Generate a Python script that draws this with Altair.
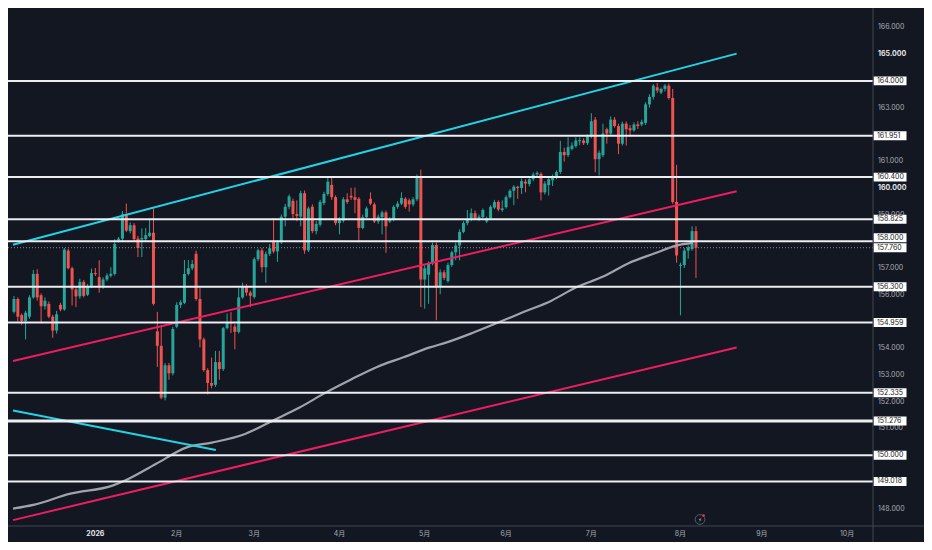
import altair as alt
import pandas as pd

# ---------------- data (USD/JPY daily) ----------------
opens = [155.36, 155.84, 155.24, 155.02, 155.18, 155.90, 156.78, 155.98, 155.57, 155.66,
         155.18, 154.66, 155.62, 155.45, 157.65, 156.99, 156.20, 155.94, 156.48, 156.00,
         156.30, 156.81, 156.66, 156.30, 156.57, 156.71, 156.78, 158.02, 158.10, 159.01,
         158.38, 158.60, 158.10, 158.07, 158.08, 158.20, 158.32, 154.63, 154.09, 152.15,
         153.36, 153.06, 154.80, 155.62, 155.70, 156.78, 156.99, 157.53, 155.84, 154.33,
         153.18, 152.70, 152.63, 153.48, 153.22, 154.75, 154.97, 154.81, 154.61, 155.90,
         156.32, 156.08, 155.92, 157.33, 157.66, 157.03, 157.53, 157.98, 157.62, 157.96,
         158.92, 159.29, 159.51, 159.02, 158.92, 159.80, 157.66, 159.29, 158.38, 158.62,
         159.43, 159.77, 160.11, 159.65, 158.68, 158.77, 159.57, 159.70, 159.65, 159.59,
         158.50, 158.90, 159.59, 159.38, 158.74, 158.90, 159.08, 158.74, 158.83, 159.29,
         159.41, 159.59, 159.53, 159.38, 159.57, 160.40, 156.57, 156.75, 157.17, 157.86,
         156.29, 156.84, 156.51, 157.11, 157.59, 157.84, 158.35, 158.68, 158.80, 159.05,
         158.83, 158.90, 158.74, 158.86, 159.26, 159.47, 159.17, 159.28, 159.65, 159.89,
         160.04, 159.99, 160.23, 160.14, 160.32, 160.50, 160.52, 159.83, 160.10, 160.28,
         160.38, 160.59, 161.34, 161.22, 161.46, 161.56, 161.74, 161.77, 161.67, 161.92,
         162.55, 161.07, 161.22, 162.19, 162.03, 162.55, 162.31, 161.65, 162.40, 162.23,
         162.15, 162.37, 162.37, 162.43, 163.12, 163.40, 163.76, 163.56, 163.70, 163.82,
         163.36, 159.47, 157.08, 157.11, 157.65, 157.71, 158.38]
highs = [155.95, 155.90, 155.30, 155.40, 155.98, 156.93, 156.95, 156.05, 155.90, 155.75,
         155.25, 155.40, 155.70, 157.75, 157.72, 157.05, 156.30, 156.60, 156.55, 156.40,
         156.98, 157.00, 157.29, 156.65, 156.80, 157.03, 158.08, 158.16, 159.13, 159.41,
         158.70, 158.68, 158.20, 158.48, 158.50, 158.86, 159.23, 155.36, 154.87, 153.45,
         153.45, 154.80, 155.72, 155.80, 157.30, 157.30, 157.30, 157.65, 156.26, 154.40,
         153.25, 153.65, 153.90, 153.90, 154.80, 155.30, 155.35, 154.90, 156.26, 156.45,
         156.40, 156.15, 157.40, 157.72, 157.75, 157.62, 157.90, 158.87, 158.05, 159.00,
         159.40, 159.75, 159.60, 159.53, 159.89, 159.90, 159.30, 159.38, 158.75, 159.55,
         159.85, 160.40, 160.38, 159.72, 158.90, 159.65, 159.80, 160.00, 160.01, 159.65,
         159.00, 159.30, 159.83, 159.45, 159.00, 159.15, 159.15, 158.90, 159.35, 159.50,
         159.83, 159.65, 159.60, 159.65, 160.50, 160.68, 157.10, 157.25, 157.95, 157.95,
         156.95, 156.92, 157.20, 157.65, 157.95, 158.45, 158.75, 159.17, 159.23, 159.15,
         159.00, 159.23, 158.92, 159.35, 159.55, 159.53, 159.53, 159.72, 159.95, 160.10,
         160.08, 160.35, 160.32, 160.40, 160.58, 160.62, 160.58, 160.25, 160.40, 160.50,
         160.65, 161.76, 161.50, 161.89, 161.70, 161.89, 161.89, 161.85, 162.00, 162.79,
         162.65, 161.40, 162.40, 162.25, 162.67, 162.65, 162.40, 162.48, 162.48, 162.35,
         162.45, 162.49, 162.55, 163.20, 163.50, 163.88, 163.92, 163.75, 163.88, 163.90,
         163.70, 160.86, 157.20, 157.75, 157.85, 158.56, 158.56]
lows = [155.30, 155.00, 154.87, 154.33, 155.10, 155.85, 155.78, 154.93, 155.45, 155.12,
        154.39, 154.55, 155.38, 155.40, 156.95, 155.60, 155.54, 155.85, 155.90, 155.95,
        156.25, 156.70, 156.08, 156.22, 156.50, 156.65, 156.72, 157.95, 158.02, 158.35,
        158.30, 158.00, 157.41, 157.41, 158.00, 158.15, 155.60, 153.30, 152.09, 152.05,
        152.82, 152.98, 154.75, 155.50, 155.65, 156.72, 156.92, 155.78, 154.03, 153.12,
        152.27, 152.50, 152.55, 152.82, 153.15, 154.70, 154.57, 153.96, 154.55, 155.85,
        155.96, 155.54, 155.85, 157.25, 156.84, 156.45, 157.45, 157.55, 157.23, 157.90,
        158.56, 159.20, 158.83, 158.75, 158.56, 157.53, 157.60, 158.30, 158.26, 158.55,
        159.35, 159.70, 159.55, 158.60, 158.26, 158.70, 159.40, 159.55, 159.05, 157.96,
        158.45, 158.85, 159.35, 158.68, 158.65, 158.26, 157.57, 158.68, 158.75, 159.22,
        159.35, 159.22, 159.11, 159.30, 159.50, 155.54, 155.48, 155.66, 157.10, 155.05,
        156.02, 156.55, 156.45, 157.05, 157.29, 157.29, 158.30, 158.60, 158.75, 158.80,
        158.75, 158.85, 158.68, 158.80, 159.20, 159.12, 159.10, 159.22, 159.60, 159.35,
        159.59, 159.77, 159.83, 160.05, 160.25, 160.40, 159.53, 159.75, 159.71, 160.07,
        160.32, 160.52, 160.98, 161.15, 161.40, 161.50, 161.60, 161.60, 161.60, 161.85,
        160.58, 160.46, 161.15, 161.65, 161.95, 162.25, 161.26, 161.58, 161.58, 161.91,
        162.10, 162.20, 162.30, 162.35, 163.00, 163.30, 163.55, 163.50, 163.60, 163.30,
        159.40, 157.20, 155.23, 157.00, 157.35, 157.65, 156.63]
closes = [155.84, 155.18, 155.02, 155.33, 155.90, 156.78, 155.90, 155.57, 155.78, 155.18,
          154.66, 155.27, 155.45, 157.69, 156.99, 156.20, 155.94, 156.48, 155.96, 156.30,
          156.81, 156.77, 156.30, 156.57, 156.72, 156.78, 157.90, 158.10, 159.01, 158.40,
          158.60, 158.08, 157.75, 158.12, 158.23, 158.32, 155.66, 154.09, 152.15, 153.36,
          153.06, 154.72, 155.62, 155.72, 156.78, 156.99, 157.15, 155.84, 154.33, 153.18,
          152.70, 152.60, 153.48, 153.22, 154.75, 154.97, 154.93, 154.61, 155.90, 156.32,
          156.08, 155.96, 157.33, 157.66, 157.03, 157.53, 157.74, 157.62, 157.96, 158.92,
          159.29, 159.68, 159.02, 158.95, 159.80, 157.66, 159.23, 158.38, 158.65, 159.47,
          159.77, 160.23, 159.65, 158.68, 158.80, 159.57, 159.47, 159.64, 159.55, 158.50,
          158.90, 159.23, 159.41, 158.74, 158.92, 159.08, 158.56, 158.83, 159.29, 159.41,
          159.62, 159.29, 159.38, 159.57, 160.40, 156.57, 156.99, 157.17, 157.86, 156.29,
          156.84, 156.63, 157.11, 157.59, 157.84, 158.35, 158.68, 158.80, 159.05, 158.86,
          158.92, 159.17, 158.86, 159.29, 159.47, 159.19, 159.23, 159.65, 159.89, 160.04,
          159.99, 160.25, 160.16, 160.32, 160.50, 160.56, 159.83, 160.16, 160.32, 160.40,
          160.59, 161.34, 161.22, 161.52, 161.58, 161.77, 161.78, 161.67, 161.92, 162.49,
          161.07, 161.31, 162.03, 162.03, 162.55, 162.31, 161.65, 162.40, 162.19, 162.15,
          162.37, 162.31, 162.47, 163.12, 163.40, 163.82, 163.64, 163.70, 163.82, 163.36,
          159.47, 157.47, 157.12, 157.65, 157.77, 158.38, 157.76]

# grey moving average, read at intervals (bar index, price)
ma_bar = [-0.25, 5.3, 14.3, 25.6, 28.8, 36.6, 44.6, 51.1, 59.1, 66.9, 73.7, 80.2, 87.0,
          93.7, 100.5, 107.3, 111.5, 118.3, 125.1, 131.8, 138.6, 145.1, 151.9, 158.6,
          165.4, 170.9, 175.2]
ma_val = [148.00, 148.15, 148.55, 148.87, 149.06, 149.67, 150.29, 150.47, 150.76, 151.30,
          151.78, 152.32, 152.83, 153.30, 153.66, 154.03, 154.21, 154.57, 154.97, 155.37,
          155.77, 156.28, 156.67, 157.18, 157.55, 157.84, 157.94]

# horizontal levels and current price
level_values = [164.000, 161.951, 160.400, 158.825, 158.000, 156.300,
                154.959, 152.335, 151.276, 150.000, 149.018]
last_price = 157.760

# right price-scale ticks that are visible
tick_values = [166, 163, 161, 159, 157, 156, 154, 153, 152, 151, 148]
bold_tick_values = [165, 160]

# bottom time-scale labels (trading-day index of first day of month)
month_labels = ["2026", "2月", "3月", "4月", "5月", "6月", "7月", "8月", "9月", "10月"]
month_bars = [21, 42, 62, 84, 106, 127, 149, 172, 193, 215]

# trend lines (bar, price) -> (bar, price)
trend_group = ["cyan", "cyan", "pink", "pink"]
trend_x0 = [-0.25, -0.25, -0.25, -0.25]
trend_y0 = [157.87, 151.67, 153.52, 147.57]
trend_x1 = [186.5, 52.1, 186.5, 186.5]
trend_y1 = [165.02, 150.19, 159.87, 154.03]

# ---------------- styling ----------------
BG = "#131722"
UP = "#26a69a"
DOWN = "#ef5350"
FONT = "Inter, 'Noto Sans CJK JP', sans-serif"
W, H = 865, 518
RIGHT_PAD, BOTTOM_PAD = 51, 16

xscale = alt.Scale(domain=[-0.25, 220.4], nice=False, zero=False)
yscale = alt.Scale(domain=[147.35, 166.726], nice=False, zero=False)

n = len(opens)
candles = pd.DataFrame({"bar": list(range(n)), "open": opens, "high": highs,
                        "low": lows, "close": closes})
candles["dir"] = ["up" if c >= o else "down" for o, c in zip(opens, closes)]
ma_df = pd.DataFrame({"bar": ma_bar, "val": ma_val})
lev_df = pd.DataFrame({"price": level_values})
last_df = pd.DataFrame({"price": [last_price]})
box_df = pd.DataFrame({"price": level_values + [last_price]})
tick_df = pd.DataFrame({"price": tick_values})
btick_df = pd.DataFrame({"price": bold_tick_values})
month_df = pd.DataFrame({"label": month_labels, "bar": month_bars})
trend_df = pd.DataFrame({"g": trend_group, "x0": trend_x0, "y0": trend_y0,
                         "x1": trend_x1, "y1": trend_y1})
one = pd.DataFrame({"k": [0]})

color = alt.Color("dir:N", scale=alt.Scale(domain=["up", "down"], range=[UP, DOWN]),
                  legend=None)

wicks = alt.Chart(candles).mark_rule(strokeWidth=1).encode(
    x=alt.X("bar:Q", scale=xscale, axis=None),
    y=alt.Y("low:Q", scale=yscale, axis=None),
    y2="high:Q",
    color=color,
)
bodies = alt.Chart(candles).mark_bar(width=3).encode(
    x=alt.X("bar:Q", scale=xscale, axis=None),
    y=alt.Y("open:Q", scale=yscale, axis=None),
    y2="close:Q",
    color=color,
)

ma = alt.Chart(ma_df).mark_line(color="#a0a3ab", strokeWidth=2.2, interpolate="monotone").encode(
    x=alt.X("bar:Q", scale=xscale, axis=None),
    y=alt.Y("val:Q", scale=yscale, axis=None),
)

def trend_layer(group, col):
    return alt.Chart(trend_df).transform_filter(alt.datum.g == group).mark_rule(
        color=col, strokeWidth=2).encode(
        x=alt.X("x0:Q", scale=xscale, axis=None),
        x2="x1:Q",
        y=alt.Y("y0:Q", scale=yscale, axis=None),
        y2="y1:Q",
    )

cyan = trend_layer("cyan", "#22d3e6")
pink = trend_layer("pink", "#ee1d62")

levels = alt.Chart(lev_df).mark_rule(color="#eceef2").encode(
    y=alt.Y("price:Q", scale=yscale, axis=None),
    x=alt.value(0), x2=alt.value(W),
    strokeWidth=alt.condition("datum.price == 151.276", alt.value(3), alt.value(2)),
)

dotted = alt.Chart(last_df).mark_rule(color="#8a8d96", strokeWidth=1, strokeDash=[1, 2]).encode(
    y=alt.Y("price:Q", scale=yscale, axis=None),
    x=alt.value(0), x2=alt.value(W),
)

ticks = alt.Chart(tick_df).mark_text(align="left", baseline="middle", font=FONT,
                                      fontSize=7, color="#a9acb5").encode(
    y=alt.Y("price:Q", scale=yscale, axis=None),
    x=alt.value(W + 5),
    text=alt.Text("price:Q", format=".3f"),
)
bticks = alt.Chart(btick_df).mark_text(align="left", baseline="middle", font=FONT,
                                        fontSize=7, fontWeight="bold", color="#e3e5ea").encode(
    y=alt.Y("price:Q", scale=yscale, axis=None),
    x=alt.value(W + 5),
    text=alt.Text("price:Q", format=".3f"),
)

# price-scale label boxes; the 158.000 box is nudged up so it clears the last-price box
box_base = alt.Chart(box_df).transform_calculate(
    pos="datum.price == 158 ? datum.price + 0.13 : datum.price"
).transform_calculate(
    top="datum.pos + 0.168", bot="datum.pos - 0.168"
)
boxes = box_base.mark_rect(color="#ffffff").encode(
    y=alt.Y("top:Q", scale=yscale, axis=None),
    y2="bot:Q",
    x=alt.value(W + 0.5), x2=alt.value(W + 33.5),
)
box_text = box_base.mark_text(align="left", baseline="middle", font=FONT,
                              fontSize=7, color="#131722").encode(
    y=alt.Y("pos:Q", scale=yscale, axis=None),
    x=alt.value(W + 4),
    text=alt.Text("price:Q", format=".3f"),
)

months = alt.Chart(month_df).transform_filter(alt.datum.label != "2026").mark_text(
    align="center", baseline="middle", font=FONT, fontSize=7, color="#a9acb5").encode(
    x=alt.X("bar:Q", scale=xscale, axis=None),
    y=alt.value(H + 8),
    text="label:N",
)
year = alt.Chart(month_df).transform_filter(alt.datum.label == "2026").mark_text(
    align="center", baseline="middle", font=FONT, fontSize=7, fontWeight="bold",
    color="#e3e5ea").encode(
    x=alt.X("bar:Q", scale=xscale, axis=None),
    y=alt.value(H + 8),
    text="label:N",
)

vline = alt.Chart(one).mark_rule(color="#434651", strokeWidth=1).encode(
    x=alt.value(W), y=alt.value(0), y2=alt.value(H + BOTTOM_PAD))
hline = alt.Chart(one).mark_rule(color="#434651", strokeWidth=1).encode(
    y=alt.value(H), x=alt.value(0), x2=alt.value(W + RIGHT_PAD))

icon_ring = alt.Chart(one).mark_point(shape="circle", size=95, filled=False,
                                      color="#787b86", strokeWidth=1).encode(
    x=alt.value(692), y=alt.value(511.5))
icon_bolt = alt.Chart(one).mark_text(text="⚡", fontSize=6, font="DejaVu Sans",
                                     color="#b2b5be", baseline="middle").encode(
    x=alt.value(692), y=alt.value(511.5))
icon_dot = alt.Chart(one).mark_point(shape="circle", size=7, filled=True,
                                     color="#f23645", opacity=1).encode(
    x=alt.value(695.5), y=alt.value(507.5))

chart = alt.layer(
    wicks, bodies, ma, pink, cyan, levels, dotted,
    ticks, bticks, boxes, box_text, months, year, vline, hline,
    icon_ring, icon_bolt, icon_dot,
).properties(
    width=W, height=H,
    padding={"left": 0, "top": 0, "right": RIGHT_PAD, "bottom": BOTTOM_PAD},
    autosize=alt.AutoSizeParams(type="none"),
    background=BG,
).configure_view(stroke="transparent")

chart.save("out.html", embed_options={"renderer": "svg", "actions": False})
